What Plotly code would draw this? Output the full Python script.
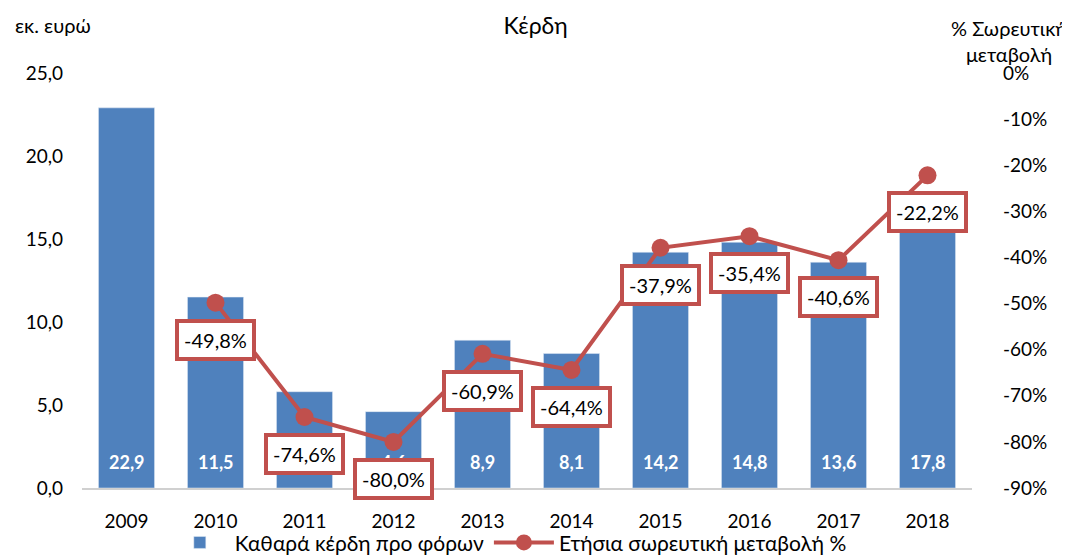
import plotly.graph_objects as go

years = ["2009", "2010", "2011", "2012", "2013", "2014", "2015", "2016", "2017", "2018"]
profits = [22.9, 11.5, 5.8, 4.6, 8.9, 8.1, 14.2, 14.8, 13.6, 17.8]
change_years = ["2010", "2011", "2012", "2013", "2014", "2015", "2016", "2017", "2018"]
change_pct = [-49.8, -74.6, -80.0, -60.9, -64.4, -37.9, -35.4, -40.6, -22.2]
left_ticks = [0, 5, 10, 15, 20, 25]
right_ticks = [0, -10, -20, -30, -40, -50, -60, -70, -80, -90]

BLUE = "#4F81BD"
RED = "#C0504D"
FONT = "Lato"

fig = go.Figure()
fig.add_trace(go.Bar(
    x=years, y=profits, name="Καθαρά κέρδη προ φόρων",
    marker_color=BLUE,
))
fig.add_trace(go.Scatter(
    x=change_years, y=change_pct, yaxis="y2", name="Ετήσια σωρευτική μεταβολή %",
    mode="lines+markers",
    line=dict(color=RED, width=4),
    marker=dict(color=RED, size=18),
))

# bar value labels (drawn first so the red boxes cover them)
for i, v in enumerate(profits):
    fig.add_annotation(
        x=i, y=0, xref="x", yref="y", yanchor="middle", yshift=26,
        text=f"<b>{v:.1f}</b>".replace(".", ","), showarrow=False,
        font=dict(size=18, color="white", family=FONT),
    )

for xv, yv in zip(change_years, change_pct):
    fig.add_annotation(
        x=years.index(xv), y=yv, yref="y2", xref="x",
        text=f"{yv:.1f}%".replace(".", ","),
        showarrow=False, yshift=-37,
        font=dict(size=20, color="black", family=FONT),
        bgcolor="white", bordercolor=RED, borderwidth=4, borderpad=5,
    )

fig.add_annotation(text="εκ. ευρώ", xref="paper", yref="paper", x=-0.0776, y=1.0,
                   yshift=48, xanchor="left", yanchor="middle", showarrow=False,
                   font=dict(size=20, family=FONT, color="black"))
fig.add_annotation(text="% Σωρευτική<br>μεταβολή", xref="paper", yref="paper", x=1.042, y=1.0,
                   yshift=32, xanchor="center", yanchor="middle", showarrow=False,
                   font=dict(size=20, family=FONT, color="black"))

fig.update_layout(
    width=1070, height=555,
    margin=dict(l=74, r=106, t=65, b=75, autoexpand=False),
    paper_bgcolor="white", plot_bgcolor="white",
    font=dict(family=FONT, size=19, color="black"),
    title=dict(text="Κέρδη", x=0.493, xanchor="center", y=0.968, yanchor="middle",
               font=dict(size=23, family=FONT, color="black")),
    bargap=0.37,
    showlegend=True,
    legend=dict(orientation="h", x=0.479, xanchor="center", y=-0.132, yanchor="middle",
                font=dict(size=21, family=FONT), bgcolor="rgba(0,0,0,0)",
                itemwidth=60),
    xaxis=dict(type="category", range=[-0.5, len(years) - 0.5], showline=True,
               linecolor="#D0D0D0", linewidth=1.5, ticks="", tickfont=dict(size=19),
               ticklabelstandoff=15),
    yaxis=dict(range=[0, 25], tickvals=left_ticks,
               ticktext=[f"{v:.1f}".replace(".", ",") for v in left_ticks],
               showgrid=False, zeroline=False, showline=False, ticks="",
               tickfont=dict(size=19), ticklabelstandoff=18),
    yaxis2=dict(range=[-90, 0], overlaying="y", side="right", tickvals=right_ticks,
                ticktext=[f"{v}%" for v in right_ticks],
                showgrid=False, zeroline=False, showline=False,
                ticks="", tickfont=dict(size=19), ticklabelstandoff=30),
)

fig.write_html("out.html")
